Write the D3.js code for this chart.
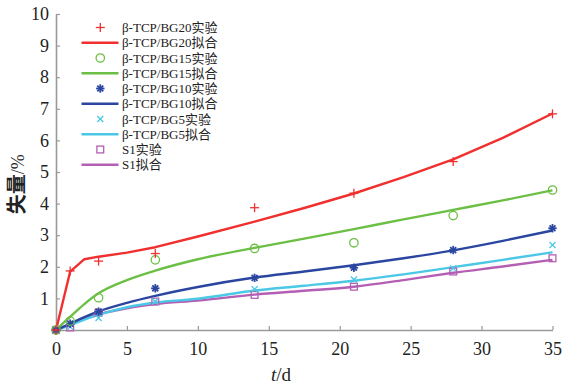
<!DOCTYPE html>
<html>
<head>
<meta charset="utf-8">
<script src="https://cdn.jsdelivr.net/npm/d3@7"></script>
<style>
  html, body { margin: 0; padding: 0; background: #fff; }
  svg { display: block; }
</style>
</head>
<body>
<svg id="chart" width="564" height="384"></svg>
<script>
// Mass loss (%) of the scaffolds over immersion time t (days)
const seriesNames = ["β-TCP/BG20", "β-TCP/BG15", "β-TCP/BG10", "β-TCP/BG5", "S1"];
const seriesColors = ["#f0302f", "#6cbf45", "#2a46a0", "#4ac8e6", "#b45eb4"];
const seriesSymbols = ["plus", "circle", "star", "cross", "square"];

// Measured points
const expDays = [0, 1, 3, 7, 14, 21, 28, 35];
const expBG20 = [0, 1.87, 2.18, 2.42, 3.87, 4.33, 5.33, 6.84];
const expBG15 = [0, 0.28, 1.02, 2.22, 2.58, 2.76, 3.62, 4.43];
const expBG10 = [0, 0.2, 0.58, 1.32, 1.65, 1.97, 2.53, 3.22];
const expBG5  = [0, 0.1, 0.38, 0.9, 1.29, 1.6, 1.95, 2.69];
const expS1   = [0, 0.08, 0.55, 0.9, 1.11, 1.37, 1.85, 2.27];

// Fitted curves
const fitDays = [0, 1, 2, 3, 5, 7, 10, 14, 17.5, 21, 24.5, 28, 31.5, 35];
const fitBG20 = [0, 1.85, 2.24, 2.32, 2.45, 2.62, 2.96, 3.43, 3.86, 4.32, 4.84, 5.4, 6.08, 6.85];
const fitBG15 = [0, 0.42, 0.82, 1.16, 1.58, 1.88, 2.24, 2.6, 2.89, 3.19, 3.5, 3.8, 4.1, 4.42];
const fitBG10 = [0, 0.2, 0.41, 0.59, 0.86, 1.08, 1.36, 1.66, 1.85, 2.05, 2.27, 2.52, 2.82, 3.15];
const fitBG5  = [0, 0.15, 0.33, 0.48, 0.72, 0.87, 0.99, 1.25, 1.4, 1.56, 1.76, 1.99, 2.22, 2.46];
const fitS1   = [0, 0.18, 0.36, 0.5, 0.69, 0.82, 0.93, 1.12, 1.24, 1.37, 1.58, 1.81, 2.01, 2.22];

const expValues = [expBG20, expBG15, expBG10, expBG5, expS1];
const fitValues = [fitBG20, fitBG15, fitBG10, fitBG5, fitS1];

const xTicks = [0, 5, 10, 15, 20, 25, 30, 35];
const yTicks = [1, 2, 3, 4, 5, 6, 7, 8, 9, 10];

const svg = d3.select("#chart");
const margin = { left: 56, right: 11.5, top: 14, bottom: 54 };
const W = 564, H = 384;

const x = d3.scaleLinear().domain([0, 35]).range([margin.left, W - margin.right]);
const y = d3.scaleLinear().domain([0, 10]).range([H - margin.bottom, margin.top]);

const serif = "'Liberation Serif', 'Times New Roman', serif";
const serifCjk = "'Liberation Serif', 'Noto Sans CJK SC', serif";
const cjk = "'Noto Sans CJK SC', sans-serif";
const axisColor = "#9a9a9a";

// Axes: ticks point inward, no frame on the top/right
const xAxis = svg.append("g")
  .attr("transform", `translate(0,${y(0)})`)
  .call(d3.axisBottom(x).tickValues(xTicks).tickSizeInner(-4).tickSizeOuter(0).tickPadding(12));
const yAxis = svg.append("g")
  .attr("transform", `translate(${x(0)},0)`)
  .call(d3.axisLeft(y).tickValues(yTicks).tickSizeInner(-4).tickSizeOuter(0).tickPadding(7));

[xAxis, yAxis].forEach(g => {
  g.select(".domain").attr("stroke", axisColor).attr("stroke-width", 1.6);
  g.selectAll(".tick line").attr("stroke", axisColor).attr("stroke-width", 1.2);
  g.selectAll(".tick text")
    .attr("fill", "#222")
    .style("font-family", serif)
    .style("font-size", "18px");
});
xAxis.selectAll(".tick text").attr("dy", "0.72em");

// Symbol generator for the measured points
function drawSymbol(g, kind, cx, cy, color) {
  const s = g.append("g").attr("transform", `translate(${cx},${cy})`)
    .attr("stroke", color).attr("fill", "none").attr("stroke-width", 1.3);
  if (kind === "plus") {
    s.append("line").attr("x1", -4.5).attr("x2", 4.5).attr("y1", 0).attr("y2", 0);
    s.append("line").attr("x1", 0).attr("x2", 0).attr("y1", -4.5).attr("y2", 4.5);
  } else if (kind === "circle") {
    s.append("circle").attr("r", 4.2);
  } else if (kind === "star") {
    [0, 45, 90, 135].forEach(a => {
      const r = 4.2, rad = a * Math.PI / 180;
      s.append("line")
        .attr("x1", -r * Math.cos(rad)).attr("y1", -r * Math.sin(rad))
        .attr("x2", r * Math.cos(rad)).attr("y2", r * Math.sin(rad))
        .attr("stroke-width", 1.8);
    });
  } else if (kind === "cross") {
    s.append("line").attr("x1", -3).attr("x2", 3).attr("y1", -3).attr("y2", 3);
    s.append("line").attr("x1", -3).attr("x2", 3).attr("y1", 3).attr("y2", -3);
  } else if (kind === "square") {
    s.append("rect").attr("x", -3.4).attr("y", -3.4).attr("width", 6.8).attr("height", 6.8);
  }
}

// The BG20 fit has sharp corners in its early part; the others are smooth
const lineFor = i => d3.line()
  .x(d => x(d[0])).y(d => y(d[1]))
  .curve(i === 0 ? d3.curveLinear : d3.curveMonotoneX);
const plot = svg.append("g");

// Fitted curves, drawn back to front
for (let i = seriesNames.length - 1; i >= 0; i--) {
  plot.append("path")
    .datum(fitDays.map((t, j) => [t, fitValues[i][j]]))
    .attr("d", lineFor(i))
    .attr("fill", "none")
    .attr("stroke", seriesColors[i])
    .attr("stroke-width", 2.4)
    .attr("stroke-linejoin", "round");
}

// Measured points
for (let i = seriesNames.length - 1; i >= 0; i--) {
  expDays.forEach((t, j) => drawSymbol(plot, seriesSymbols[i], x(t), y(expValues[i][j]), seriesColors[i]));
}

// Legend
const legend = svg.append("g");
const rowH = 15.25, row0 = 27.5;
seriesNames.forEach((name, i) => {
  const yExp = row0 + rowH * (2 * i);
  const yFit = row0 + rowH * (2 * i + 1);
  drawSymbol(legend, seriesSymbols[i], 100.3, yExp, seriesColors[i]);
  legend.append("line")
    .attr("x1", 81.5).attr("x2", 118.5).attr("y1", yFit).attr("y2", yFit)
    .attr("stroke", seriesColors[i]).attr("stroke-width", 2.4);
  [[yExp, "实验"], [yFit, "拟合"]].forEach(([yy, suffix]) => {
    legend.append("text")
      .attr("x", 122).attr("y", yy).attr("dy", "0.35em")
      .attr("fill", "#222")
      .style("font-family", serifCjk)
      .style("font-size", "13px")
      .text(name + suffix);
  });
});

// Axis titles
const yTitle = svg.append("text")
  .attr("transform", `translate(24,${(y(5) + y(6)) / 2 + 28}) rotate(-90)`)
  .attr("text-anchor", "middle")
  .attr("fill", "#222");
yTitle.append("tspan").style("font-family", cjk).style("font-size", "20px").style("font-weight", "bold").text("失量");
yTitle.append("tspan").style("font-family", serif).style("font-size", "18px").text("/%");

const xTitle = svg.append("text")
  .attr("x", 281).attr("y", 381)
  .attr("text-anchor", "middle")
  .attr("fill", "#222")
  .style("font-family", serif)
  .style("font-size", "19px");
xTitle.append("tspan").style("font-style", "italic").text("t");
xTitle.append("tspan").text("/d");
</script>
</body>
</html>
